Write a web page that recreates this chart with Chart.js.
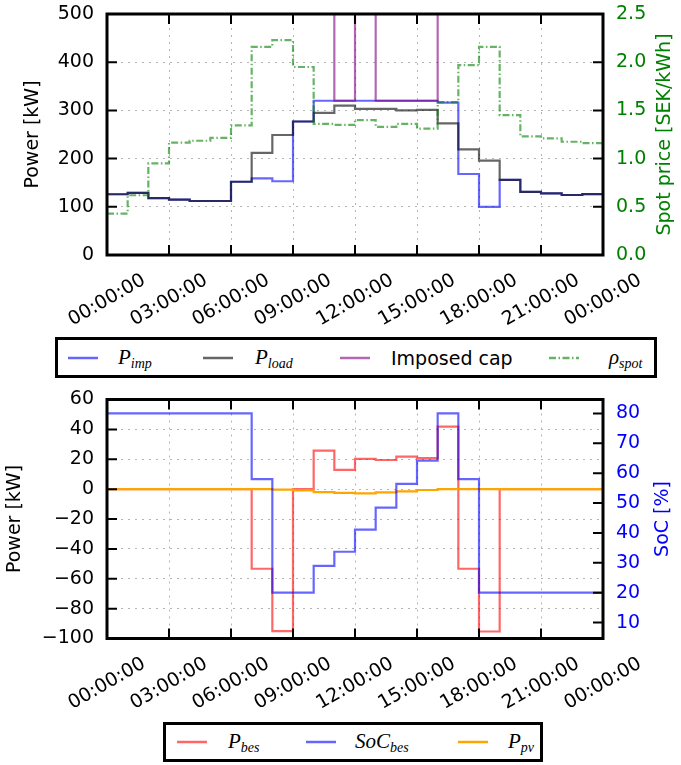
<!DOCTYPE html>
<html>
<head>
<meta charset="utf-8">
<script src="https://cdn.jsdelivr.net/npm/chart.js@4.4.1/dist/chart.umd.min.js"></script>
<style>
  body { margin: 0; background: #fff; width: 681px; height: 765px; position: relative; overflow: hidden; }
  canvas { position: absolute; left: 0; }
  .legend { position: absolute; box-sizing: border-box; border: 3px solid #000; background: #fff; }
  .legend > * { position: absolute; top: 50%; transform: translateY(-50%); }
  .txt { font-family: 'DejaVu Sans', sans-serif; font-size: 19px; white-space: nowrap; }
  .math { font-family: 'Liberation Serif', 'DejaVu Serif', serif; font-style: italic; font-size: 21px; white-space: nowrap; }
  .math sub { font-size: 14px; vertical-align: -4px; }
</style>
</head>
<body>
<canvas id="topChart" width="681" height="330" style="top:0px"></canvas>
<canvas id="bottomChart" width="681" height="330" style="top:385px"></canvas>

<div class="legend" style="left:55px;top:337px;width:602px;height:41px;">
  <svg style="left:10px" width="30" height="6"><line x1="0" y1="3" x2="30" y2="3" stroke="rgba(0,0,255,0.6)" stroke-width="2.5"/></svg>
  <span class="math" style="left:60px">P<sub>imp</sub></span>
  <svg style="left:145px" width="30" height="6"><line x1="0" y1="3" x2="30" y2="3" stroke="rgba(0,0,0,0.6)" stroke-width="2.5"/></svg>
  <span class="math" style="left:197px">P<sub>load</sub></span>
  <svg style="left:282px" width="30" height="6"><line x1="0" y1="3" x2="30" y2="3" stroke="rgba(128,0,128,0.6)" stroke-width="2.5"/></svg>
  <span class="txt" style="left:333px">Imposed cap</span>
  <svg style="left:491px" width="30" height="6"><line x1="0" y1="3" x2="30" y2="3" stroke="rgba(0,128,0,0.6)" stroke-width="2.5" stroke-dasharray="7 2.5 1.5 2.5"/></svg>
  <span class="math" style="left:551px">ρ<sub>spot</sub></span>
</div>

<div class="legend" style="left:163px;top:722px;width:380px;height:40px;">
  <svg style="left:11px" width="30" height="6"><line x1="0" y1="3" x2="30" y2="3" stroke="rgba(255,0,0,0.6)" stroke-width="2.5"/></svg>
  <span class="math" style="left:62px">P<sub>bes</sub></span>
  <svg style="left:140px" width="30" height="6"><line x1="0" y1="3" x2="30" y2="3" stroke="rgba(0,0,255,0.6)" stroke-width="2.5"/></svg>
  <span class="math" style="left:189px">SoC<sub>bes</sub></span>
  <svg style="left:292px" width="30" height="6"><line x1="0" y1="3" x2="30" y2="3" stroke="orange" stroke-width="2.5"/></svg>
  <span class="math" style="left:342px">P<sub>pv</sub></span>
</div>

<script>
// hourly values, hour 0 .. 23
const NO_CAP = 9999; // cap not active -> drawn off the top of the plot

const pImp  = [126, 129, 118, 115, 112, 112, 152, 159, 153, 277, 320, 320, 320, 320, 320, 320, 316, 168, 100, 156, 131, 128, 124.5, 126.5];
const pLoad = [126, 129, 118, 115, 112, 112, 152, 212, 249, 277, 295, 310, 303, 303, 300, 301, 273, 219, 196, 156, 131, 128, 124.5, 126.5];
const cap   = [NO_CAP, NO_CAP, NO_CAP, NO_CAP, NO_CAP, NO_CAP, NO_CAP, NO_CAP, NO_CAP, NO_CAP, NO_CAP,
               320, NO_CAP, 320, 320, 320,
               NO_CAP, NO_CAP, NO_CAP, NO_CAP, NO_CAP, NO_CAP, NO_CAP, NO_CAP];
const spot  = [0.43, 0.62, 0.95, 1.165, 1.185, 1.215, 1.345, 2.16, 2.23, 1.95, 1.36, 1.35, 1.40, 1.33, 1.36, 1.31, 1.585, 1.97, 2.16, 1.45, 1.23, 1.21, 1.175, 1.16];

const pBes  = [0, 0, 0, 0, 0, 0, 0, -53.3, -95, 0, 25.8, 12.9, 20.2, 19.5, 21.8, 20.7, 41.8, -53.3, -95.3, 0, 0, 0, 0, 0];
const soc   = [80, 80, 80, 80, 80, 80, 80, 58, 20, 20, 29, 33.7, 41.1, 48.5, 56.4, 64.2, 80, 58, 20, 20, 20, 20, 20, 20];
const pPv   = [0, 0, 0, 0, 0, 0, 0, 0, -0.3, -0.9, -2, -2.5, -2.8, -2.2, -1.5, -0.6, 0, 0, 0, 0, 0, 0, 0, 0];

// tick labels
const xTicks = [0, 3, 6, 9, 12, 15, 18, 21, 24];
const xTickLabels = ['00:00:00', '03:00:00', '06:00:00', '09:00:00', '12:00:00', '15:00:00', '18:00:00', '21:00:00', '00:00:00'];
const powerTicksTop = [0, 100, 200, 300, 400, 500];
const spotTicks = [0, 0.5, 1.0, 1.5, 2.0, 2.5];
const powerTicksBottom = [-100, -80, -60, -40, -20, 0, 20, 40, 60];
const socTicks = [10, 20, 30, 40, 50, 60, 70, 80];

const FONT = 'DejaVu Sans';

// hour i holds value i until hour i+1; repeat last value to close the day
function stepPoints(values) {
  const pts = values.map((v, i) => ({x: i, y: v}));
  pts.push({x: values.length, y: values[values.length - 1]});
  return pts;
}

function fixedTicks(list) {
  return function(scale) { scale.ticks = list.map(v => ({value: v})); };
}

function minusFmt(v) {
  return v < 0 ? '\u2212' + Math.abs(v) : String(v);
}

// frame, inward ticks and axis titles like the matplotlib figure
const framePlugin = {
  id: 'frame',
  afterDraw(chart, args, opts) {
    const ctx = chart.ctx;
    const a = chart.chartArea;
    const tl = 10;
    ctx.save();
    ctx.strokeStyle = '#000';
    ctx.lineWidth = 2;
    ctx.beginPath();
    const xs = chart.scales.x;
    xs.ticks.forEach(t => {
      const px = xs.getPixelForValue(t.value);
      ctx.moveTo(px, a.bottom); ctx.lineTo(px, a.bottom - tl);
      ctx.moveTo(px, a.top); ctx.lineTo(px, a.top + tl);
    });
    const yl = chart.scales.y;
    yl.ticks.forEach(t => {
      const py = yl.getPixelForValue(t.value);
      ctx.moveTo(a.left, py); ctx.lineTo(a.left + tl, py);
    });
    const yr = chart.scales.y2;
    yr.ticks.forEach(t => {
      const py = yr.getPixelForValue(t.value);
      ctx.moveTo(a.right, py); ctx.lineTo(a.right - tl, py);
    });
    ctx.stroke();
    ctx.lineWidth = 3;
    ctx.strokeRect(a.left, a.top, a.width, a.height);

    // axis titles, both read bottom to top
    ctx.font = '19px "' + FONT + '"';
    ctx.textAlign = 'center';
    ctx.textBaseline = 'middle';
    const midY = (a.top + a.bottom) / 2;
    opts.titles.forEach(t => {
      ctx.save();
      ctx.translate(t.x, midY);
      ctx.rotate(-Math.PI / 2);
      ctx.fillStyle = t.color;
      ctx.fillText(t.text, 0, 0);
      ctx.restore();
    });
    ctx.restore();
  }
};

function xAxis(height) {
  return {
    type: 'linear', min: 0, max: 24,
    afterBuildTicks: fixedTicks(xTicks),
    afterFit: s => { s.height = height; s.paddingTop = 0; s.paddingBottom = 0; },
    grid: { color: '#b4b4b4', lineWidth: 1, drawTicks: false },
    border: { display: false, dash: [2, 5] },
    ticks: {
      font: {family: FONT, size: 19}, color: '#000',
      minRotation: 30, maxRotation: 30, autoSkip: false,
      padding: 14, labelOffset: 37,
      callback: (v, i) => xTickLabels[i]
    }
  };
}

function yAxis(pos, min, max, list, color, fmt, width, showGrid) {
  return {
    type: 'linear', position: pos, min: min, max: max,
    afterBuildTicks: fixedTicks(list),
    afterFit: s => { s.width = width; s.paddingTop = 0; s.paddingBottom = 0; },
    grid: { display: showGrid, color: '#b4b4b4', lineWidth: 1, drawTicks: false },
    border: { display: false, dash: [2, 5] },
    ticks: { font: {family: FONT, size: 19}, color: color, padding: 13, callback: fmt }
  };
}

const lineBase = { borderWidth: 2.2, pointRadius: 0, fill: false, stepped: 'before', tension: 0 };

new Chart(document.getElementById('topChart'), {
  type: 'line',
  data: {
    datasets: [
      Object.assign({}, lineBase, { label: 'P_imp', data: stepPoints(pImp), borderColor: 'rgba(0,0,255,0.6)', yAxisID: 'y', order: 4 }),
      Object.assign({}, lineBase, { label: 'P_load', data: stepPoints(pLoad), borderColor: 'rgba(0,0,0,0.6)', yAxisID: 'y', order: 3 }),
      Object.assign({}, lineBase, { label: 'Imposed cap', data: stepPoints(cap), borderColor: 'rgba(128,0,128,0.6)', yAxisID: 'y', order: 2 }),
      Object.assign({}, lineBase, { label: 'rho_spot', data: stepPoints(spot), borderColor: 'rgba(0,128,0,0.6)', borderDash: [7, 2.5, 1.5, 2.5], yAxisID: 'y2', order: 1 })
    ]
  },
  options: {
    responsive: false,
    animation: false,
    layout: { padding: { top: 14, left: 0, right: 0, bottom: 0 } },
    plugins: {
      legend: { display: false },
      tooltip: { enabled: false },
      frame: { titles: [
        { text: 'Power [kW]', x: 33, color: '#000' },
        { text: 'Spot price [SEK/kWh]', x: 665, color: 'rgb(0,128,0)' }
      ] }
    },
    scales: {
      x: xAxis(75),
      y: yAxis('left', 0, 500, powerTicksTop, '#000', v => String(v), 107, true),
      y2: yAxis('right', 0, 2.5, spotTicks, 'rgb(0,128,0)', v => v.toFixed(1), 78, false)
    }
  },
  plugins: [framePlugin]
});

new Chart(document.getElementById('bottomChart'), {
  type: 'line',
  data: {
    datasets: [
      Object.assign({}, lineBase, { label: 'P_bes', data: stepPoints(pBes), borderColor: 'rgba(255,0,0,0.6)', yAxisID: 'y', order: 3 }),
      Object.assign({}, lineBase, { label: 'SoC_bes', data: stepPoints(soc), borderColor: 'rgba(0,0,255,0.6)', yAxisID: 'y2', order: 1 }),
      Object.assign({}, lineBase, { label: 'P_pv', data: stepPoints(pPv), borderColor: 'orange', yAxisID: 'y', order: 2 })
    ]
  },
  options: {
    responsive: false,
    animation: false,
    layout: { padding: { top: 14.5, left: 0, right: 0, bottom: 0 } },
    plugins: {
      legend: { display: false },
      tooltip: { enabled: false },
      frame: { titles: [
        { text: 'Power [kW]', x: 15, color: '#000' },
        { text: 'SoC [%]', x: 663, color: 'rgb(0,0,255)' }
      ] }
    },
    scales: {
      x: xAxis(76.5),
      y: yAxis('left', -100, 60, powerTicksBottom, '#000', minusFmt, 107, true),
      y2: yAxis('right', 4.67, 84.67, socTicks, 'rgb(0,0,255)', v => String(v), 78, false)
    }
  },
  plugins: [framePlugin]
});
</script>
</body>
</html>
